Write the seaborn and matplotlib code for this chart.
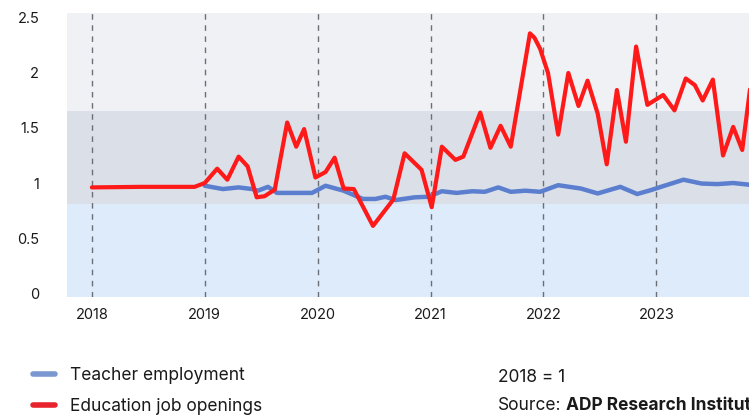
import pandas as pd
import seaborn as sns
import matplotlib.pyplot as plt
from matplotlib.lines import Line2D

# Education job openings, index 2018 = 1
openings_year = [
    2018.00, 2018.43, 2018.91, 2019.00, 2019.11, 2019.20, 2019.30, 2019.38,
    2019.46, 2019.53, 2019.62, 2019.73, 2019.81, 2019.88, 2019.98, 2020.07,
    2020.15, 2020.23, 2020.32, 2020.49, 2020.67, 2020.77, 2020.92, 2021.01,
    2021.10, 2021.22, 2021.29, 2021.44, 2021.53, 2021.62, 2021.71, 2021.88,
    2021.92, 2021.97, 2022.04, 2022.13, 2022.22, 2022.31, 2022.39, 2022.48,
    2022.56, 2022.65, 2022.73, 2022.82, 2022.92, 2023.06, 2023.16, 2023.26,
    2023.34, 2023.41, 2023.50, 2023.59, 2023.68, 2023.76, 2023.86,
]
openings_value = [
    0.96, 0.965, 0.965, 1.00, 1.13, 1.03, 1.24, 1.15,
    0.87, 0.88, 0.94, 1.55, 1.33, 1.49, 1.05, 1.10,
    1.23, 0.95, 0.945, 0.61, 0.85, 1.27, 1.12, 0.78,
    1.33, 1.21, 1.24, 1.64, 1.32, 1.52, 1.33, 2.36,
    2.32, 2.22, 2.00, 1.44, 2.00, 1.70, 1.93, 1.63,
    1.17, 1.845, 1.375, 2.24, 1.71, 1.80, 1.66, 1.95,
    1.89, 1.75, 1.94, 1.25, 1.51, 1.30, 2.10,
]

# Teacher employment, index 2018 = 1
teacher_year = [
    2019.00, 2019.16, 2019.30, 2019.42, 2019.47, 2019.56, 2019.64, 2019.95,
    2020.07, 2020.23, 2020.40, 2020.51, 2020.60, 2020.69, 2020.86, 2020.98,
    2021.10, 2021.23, 2021.37, 2021.48, 2021.60, 2021.71, 2021.84, 2021.97,
    2022.13, 2022.33, 2022.48, 2022.68, 2022.83, 2022.95, 2023.04, 2023.24,
    2023.40, 2023.54, 2023.68, 2023.86,
]
teacher_value = [
    0.975, 0.945, 0.96, 0.945, 0.93, 0.965, 0.91, 0.91,
    0.975, 0.93, 0.855, 0.855, 0.875, 0.845, 0.87, 0.875,
    0.925, 0.91, 0.925, 0.92, 0.96, 0.92, 0.93, 0.92,
    0.98, 0.95, 0.905, 0.965, 0.90, 0.935, 0.965, 1.03,
    0.995, 0.99, 1.00, 0.98,
]

year_ticks = [2018, 2019, 2020, 2021, 2022, 2023]
y_ticks = [0, 0.5, 1, 1.5, 2, 2.5]
y_tick_labels = ["0", "0.5", "1", "1.5", "2", "2.5"]

blue = "#5B7FCE"
red = "#FF1A1A"

sns.set_style("white")
plt.rcParams["font.family"] = ["Inter", "DejaVu Sans"]
plt.rcParams["text.color"] = "#1a1a1a"

fig = plt.figure(figsize=(7.49, 4.17), dpi=100)
ax = fig.add_axes([67 / 749, 1 - 297 / 417, 1 - 67 / 749, (297 - 13) / 417])

# background bands
ax.axhspan(-0.1, 0.81, color="#DDEBFB", lw=0, zorder=0)
ax.axhspan(0.81, 1.655, color="#DADFE8", lw=0, zorder=0)
ax.axhspan(1.655, 2.7, color="#F0F1F5", lw=0, zorder=0)

for yr in year_ticks:
    ax.axvline(yr, color="#6b6f78", lw=1, ls=(0, (4, 4)), zorder=1)

teacher = pd.DataFrame({"year": teacher_year, "value": teacher_value})
openings = pd.DataFrame({"year": openings_year, "value": openings_value})

sns.lineplot(data=teacher, x="year", y="value", ax=ax, color=blue, lw=3.2,
             zorder=3, solid_capstyle="round", solid_joinstyle="round")
sns.lineplot(data=openings, x="year", y="value", ax=ax, color=red, lw=3.0,
             zorder=4, solid_capstyle="round", solid_joinstyle="round")

ax.set_xlim(2017.78, 2023.82)
ax.set_ylim(-0.036, 2.545)
ax.set_xticks(year_ticks)
ax.set_xticklabels([str(y) for y in year_ticks])
ax.set_yticks(y_ticks)
ax.set_yticklabels(y_tick_labels)
ax.tick_params(axis="both", length=0, labelsize=10.5, colors="#1a1a1a")
ax.tick_params(axis="x", pad=8)
ax.tick_params(axis="y", pad=20)
ax.set_xlabel("")
ax.set_ylabel("")
sns.despine(ax=ax, left=True, bottom=True)

handles = [
    Line2D([], [], color="#7B97D0", lw=4),
    Line2D([], [], color="#E8232D", lw=4),
]
fig.legend(handles, ["Teacher employment", "Education job openings"],
           loc="upper left", bbox_to_anchor=(24 / 749, 1 - 358 / 417),
           frameon=False, fontsize=12.5, handlelength=1.3,
           handletextpad=0.85, labelspacing=0.85, borderpad=0)

fig.text(498 / 749, 1 - 377 / 417, "2018 = 1", fontsize=12.5, va="center")
src = fig.text(498 / 749, 1 - 405 / 417, "Source:", fontsize=12.5, va="center")
fig.canvas.draw()
bb = src.get_window_extent()
fig.text((bb.x1 + 4) / 749, 1 - 405 / 417, "ADP Research Institute",
         fontsize=12.5, va="center", fontweight="bold")

fig.savefig("out.png", dpi=100)
